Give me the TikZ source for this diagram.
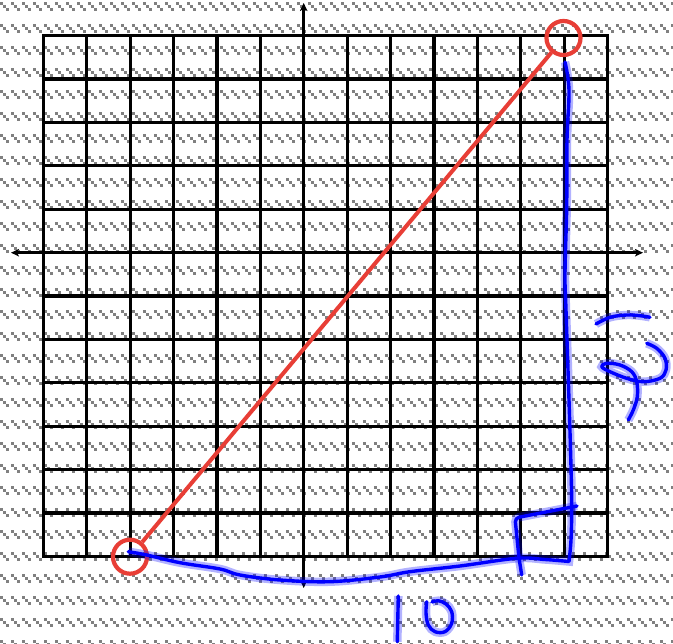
\documentclass[tikz,border=0pt]{standalone}
\usetikzlibrary{arrows.meta}
\definecolor{patgray}{RGB}{128,128,128}
\definecolor{penred}{RGB}{232,62,54}
\definecolor{penblue}{RGB}{0,0,255}
\begin{document}
\begin{tikzpicture}[x=1pt,y=-1pt,
  gridline/.style={line width=3.2pt, black, line cap=rect},
  axisline/.style={line width=2.8pt, black, {Stealth[length=8pt,width=7.5pt,inset=2pt]}-{Stealth[length=8pt,width=7.5pt,inset=2pt]}},
  ring/.style={circle, draw=penred, line width=4.2pt, minimum size=34pt, inner sep=0pt},
  redline/.style={penred, line width=4pt},
  bluepen/.style={penblue, line width=3.4pt, line cap=round, line join=round,
    preaction={draw=penblue, line width=8.5pt, opacity=0.3}},
  patrow/.style={patgray, line width=3pt, dash pattern=on 3pt off 8pt}]
\useasboundingbox (0,0) rectangle (673,644);
\fill[white] (0,0) rectangle (673,644);
% background hatch
\foreach \b in {0,...,29}{
  \foreach \r in {0,1,2}{
    \pgfmathsetmacro\yy{2+22*\b+3*\r+1.5}
    \pgfmathsetmacro\xx{3*\r-11}
    \draw[patrow] (\xx,\yy) -- (686,\yy);
  }
}
% grid
\foreach \i in {0,...,13} \draw[gridline] ({43.3+43.4*\i},35.7) -- ({43.3+43.4*\i},556.5);
\foreach \j in {0,...,12} \draw[gridline] (43.3,{35.7+43.4*\j}) -- (607.5,{35.7+43.4*\j});
% axes
\coordinate (xl) at (11,252.7);
\coordinate (xr) at (643,252.7);
\coordinate (yt) at (303.7,3);
\coordinate (yb) at (303.7,588);
\draw[axisline] (xl) -- (xr);
\draw[axisline] (yb) -- (yt);
% red segment
\node[ring] (A) at (130,556.7) {};
\node[ring] (B) at (563.5,38) {};
\draw[redline] (A) -- (B);
% blue legs
\draw[bluepen] plot[smooth,tension=0.6] coordinates {(128.3,551.7) (146.7,555) (180,562.7) (220,569) (240,575) (280,580) (330,581.7) (380,577) (410,571.7) (460,566) (516.7,558.3) (545,559.5) (569,561.5)}
  -- plot[smooth,tension=0.6] coordinates {(569,561.5) (571,540) (571.7,507) (571,467) (569,400) (566,310) (565,273) (566.7,207) (567,140) (569,90) (565,62)};
% right-angle mark
\draw[bluepen, rounded corners=4pt] (577,506) -- (515,518) -- (519,558) -- (521.7,575);
% "10"
\draw[bluepen] (398.3,596) -- (397.3,641.7);
\draw[bluepen] plot[smooth,tension=0.6] coordinates {(426.7,601.7) (426,613) (428.3,625) (435,631.7) (445,631.7) (451.7,623.3) (451.7,611.7) (446,604) (438.3,600.7) (432,602)};
% right label
\draw[bluepen] plot[smooth,tension=0.6] coordinates {(596,324) (610,317.3) (626.7,315) (640,315.7) (650,317.3)};
\draw[bluepen] plot[smooth,tension=0.6] coordinates {(646.7,343.3) (656.7,348.3) (665,358.3) (666,370) (660,378.3) (643.3,381.7) (626.7,378.3) (610,371.7) (601.7,366.7) (606.7,363.3) (620,365) (631.7,371.7) (636.7,381.7) (637.3,396.7) (633.3,410) (628.3,420)};
\end{tikzpicture}
\end{document}
